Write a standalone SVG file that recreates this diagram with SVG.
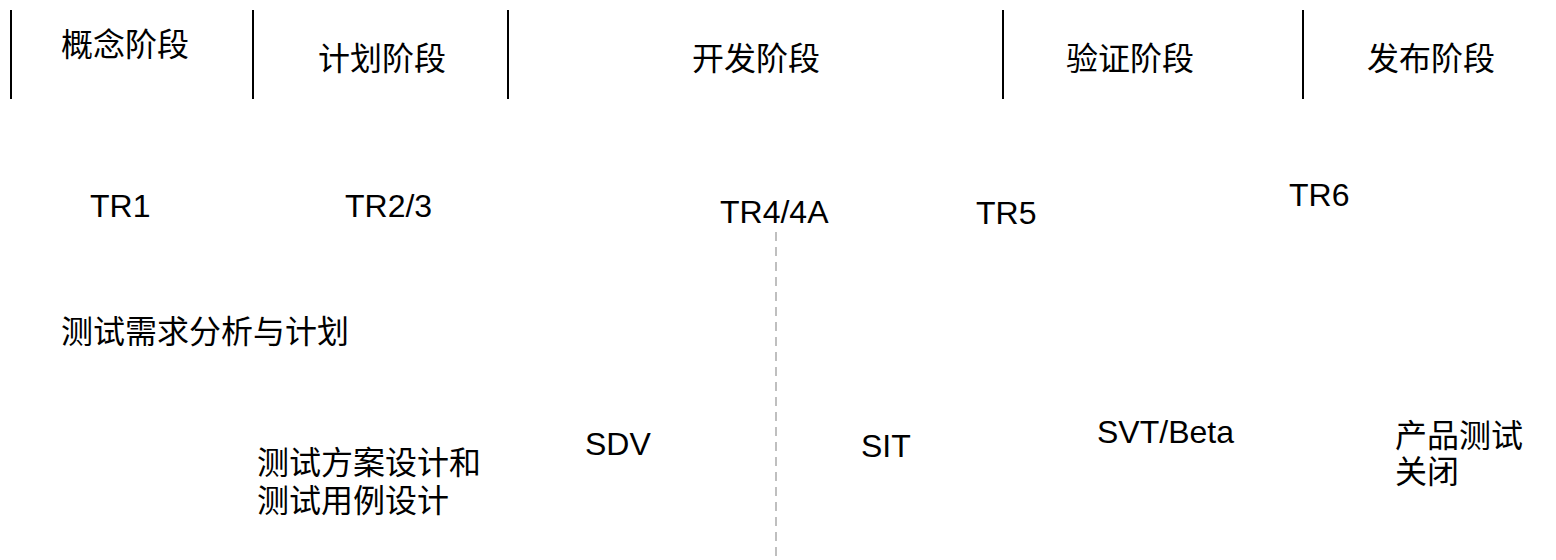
<svg xmlns="http://www.w3.org/2000/svg" width="1556" height="560" viewBox="0 0 1556 560">
<style>
.cjk{font-family:"Liberation Sans","Noto Sans CJK SC",sans-serif;font-size:32px;fill:#000}
.lat{font-family:"Liberation Sans",Arial,sans-serif;font-size:32px;fill:#000}
.sep{stroke:#000;stroke-width:2}
.dash{stroke:#aaa;stroke-width:1.5;stroke-dasharray:9,6}
</style>
<rect width="1556" height="560" fill="#fff"/>
<g id="phase-lines">
<line class="sep" x1="11" y1="10" x2="11" y2="99"/>
<line class="sep" x1="253" y1="10" x2="253" y2="99"/>
<line class="sep" x1="508" y1="10" x2="508" y2="99"/>
<line class="sep" x1="1003" y1="10" x2="1003" y2="99"/>
<line class="sep" x1="1303" y1="10" x2="1303" y2="99"/>
</g>
<g id="phases">
<text id="p1" class="cjk" x="61" y="56">概念阶段</text>
<text id="p2" class="cjk" x="318" y="70">计划阶段</text>
<text id="p3" class="cjk" x="692" y="70">开发阶段</text>
<text id="p4" class="cjk" x="1066" y="70">验证阶段</text>
<text id="p5" class="cjk" x="1367" y="70">发布阶段</text>
</g>
<g id="milestones">
<text id="tr1" class="lat" x="90" y="217">TR1</text>
<text id="tr23" class="lat" x="345" y="217">TR2/3</text>
<text id="tr4" class="lat" x="720" y="223">TR4/4A</text>
<text id="tr5" class="lat" x="976" y="224">TR5</text>
<text id="tr6" class="lat" x="1289" y="206">TR6</text>
</g>
<g id="connectors">
<line class="dash" x1="776" y1="232" x2="776" y2="560"/>
</g>
<g id="activities">
<text id="a1" class="cjk" x="61" y="343">测试需求分析与计划</text>
<text id="a2" class="cjk" x="257" y="474">测试方案设计和<tspan x="257" y="512">测试用例设计</tspan></text>
<text id="a3" class="lat" x="585" y="455">SDV</text>
<text id="a4" class="lat" x="861" y="457">SIT</text>
<text id="a5" class="lat" x="1097" y="443">SVT/Beta</text>
<text id="a6" class="cjk" x="1395" y="447">产品测试<tspan x="1395" y="483">关闭</tspan></text>
</g>
</svg>
